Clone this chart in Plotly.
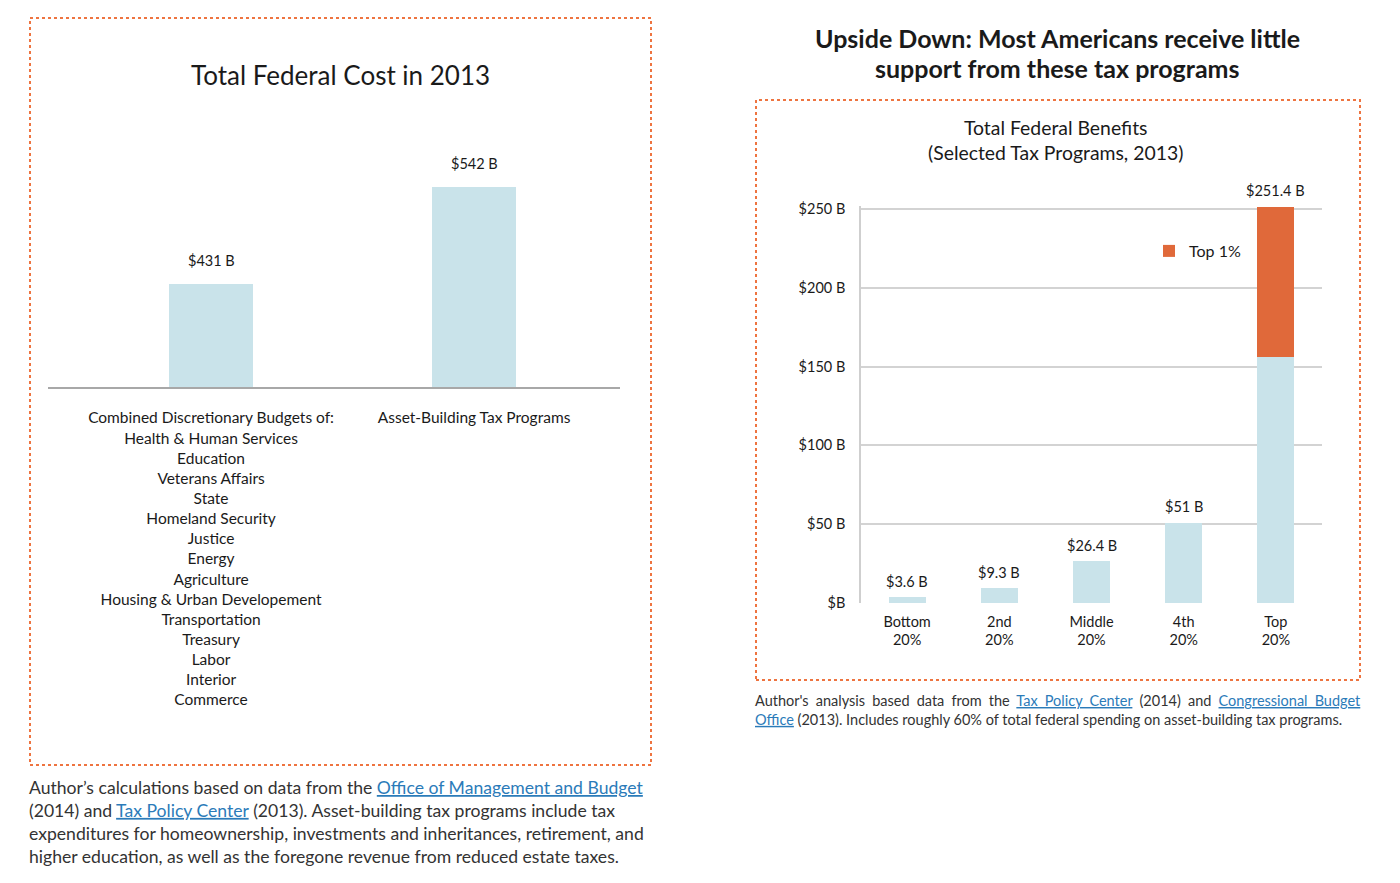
import plotly.graph_objects as go

# ---------------- data ----------------
left_categories = [
    "Combined Discretionary Budgets of:<br>Health & Human Services<br>Education<br>Veterans Affairs<br>State<br>Homeland Security<br>Justice<br>Energy<br>Agriculture<br>Housing & Urban Developement<br>Transportation<br>Treasury<br>Labor<br>Interior<br>Commerce",
    "Asset-Building Tax Programs",
]
left_values = [431, 542]

right_categories = ["Bottom<br>20%", "2nd<br>20%", "Middle<br>20%", "4th<br>20%", "Top<br>20%"]
right_base_values = [3.6, 9.3, 26.4, 51, 156.0]
right_top1_values = [0, 0, 0, 0, 95.4]
right_totals = [3.6, 9.3, 26.4, 51, 251.4]
right_tickvals = [0, 50, 100, 150, 200, 250]
right_ticktext = ["$B", "$50 B", "$100 B", "$150 B", "$200 B", "$250 B"]

FONT = "Lato"
TXT = "#1a1a1a"
BLUE = "#C9E3EA"
ORANGE = "#E0693A"
BORDER = "#EE7440"
LINK = "#2B7BB9"
W, H = 1400, 883

def px_x(p):
    return p / W

def px_y(p):
    return 1 - p / H

fig = go.Figure()

# left chart
fig.add_trace(go.Bar(
    x=[0, 1], y=left_values, marker=dict(color=BLUE, line=dict(width=0)), width=0.32,
    xaxis="x", yaxis="y", showlegend=False, hoverinfo="skip",
))

# right chart
fig.add_trace(go.Bar(
    x=right_categories, y=right_base_values, marker=dict(color=BLUE, line=dict(width=0)),
    xaxis="x2", yaxis="y2", showlegend=False, name="Bottom 99%",
))
fig.add_trace(go.Bar(
    x=right_categories, y=right_top1_values, marker=dict(color=ORANGE, line=dict(width=0)),
    xaxis="x2", yaxis="y2", showlegend=True, name="Top 1%",
))

annotations = []
for i, v in enumerate(left_values):
    annotations.append(dict(
        x=i, y=v, xref="x", yref="y", text=f"${v:g} B", showarrow=False,
        yanchor="middle", yshift=23, font=dict(size=14.5, color=TXT, family=FONT),
    ))
for c, v in zip(right_categories, right_totals):
    annotations.append(dict(
        x=c, y=v, xref="x2", yref="y2", text=f"${v:g} B", showarrow=False,
        yanchor="middle", yshift=16, font=dict(size=14.5, color=TXT, family=FONT),
    ))

def link(t, extra=""):
    return f'<span style="color:{LINK};text-decoration:underline;{extra}">{t}</span>'

def ws(t):
    return f'<span style="word-spacing:3.4px">{t}</span>'

annotations += [
    dict(x=px_x(340), y=px_y(75), xref="paper", yref="paper", text="Total Federal Cost in 2013",
         showarrow=False, xanchor="center", yanchor="middle", font=dict(size=26, color=TXT, family=FONT)),
    dict(x=px_x(1057), y=px_y(38), xref="paper", yref="paper",
         text="<b>Upside Down: Most Americans receive little</b>",
         showarrow=False, xanchor="center", yanchor="middle", font=dict(size=25, color=TXT, family=FONT)),
    dict(x=px_x(1057), y=px_y(68), xref="paper", yref="paper",
         text="<b>support from these tax programs</b>",
         showarrow=False, xanchor="center", yanchor="middle", font=dict(size=25, color=TXT, family=FONT)),
    dict(x=px_x(1055), y=px_y(140), xref="paper", yref="paper",
         text="Total Federal Benefits<br>(Selected Tax Programs, 2013)",
         showarrow=False, xanchor="center", yanchor="middle", font=dict(size=19.4, color=TXT, family=FONT)),
    dict(x=px_x(27), y=px_y(775), xref="paper", yref="paper", align="left",
         text=("Author\u2019s calculations based on data from the " + link("Office of Management and Budget") +
               "<br>(2014) and " + link("Tax Policy Center") +
               " (2013). Asset-building tax programs include tax"
               "<br>expenditures for homeownership, investments and inheritances, retirement, and"
               "<br>higher education, as well as the foregone revenue from reduced estate taxes."),
         showarrow=False, xanchor="left", yanchor="top", font=dict(size=17.6, color="#333333", family=FONT)),
    dict(x=px_x(753), y=px_y(690), xref="paper", yref="paper", align="left",
         text=(ws("Author's analysis based data from the ") + link("Tax Policy Center", "word-spacing:3.4px") +
               ws(" (2014) and ") + link("Congressional Budget", "word-spacing:3.4px") +
               "<br>" + link("Office") +
               " (2013). Includes roughly 60% of total federal spending on asset-building tax programs."),
         showarrow=False, xanchor="left", yanchor="top", font=dict(size=14.5, color="#333333", family=FONT)),
]

shapes = [
    dict(type="rect", xref="paper", yref="paper", x0=px_x(30), x1=px_x(651), y0=px_y(765), y1=px_y(18),
         line=dict(color=BORDER, width=2, dash="dot")),
    dict(type="rect", xref="paper", yref="paper", x0=px_x(756), x1=px_x(1360), y0=px_y(680), y1=px_y(100),
         line=dict(color=BORDER, width=2, dash="dot")),
]

fig.update_layout(
    template="none",
    width=W, height=H, margin=dict(l=0, r=0, t=0, b=0, pad=0),
    paper_bgcolor="white", plot_bgcolor="white",
    barmode="stack", bargap=0.6,
    font=dict(family=FONT, color=TXT),
    annotations=annotations, shapes=shapes,
    showlegend=True,
    legend=dict(x=px_x(1149), y=px_y(234), xanchor="left", yanchor="top",
                font=dict(size=16, color=TXT, family=FONT), bgcolor="rgba(0,0,0,0)"),
    xaxis=dict(domain=[px_x(48), px_x(620)], range=[-0.62, 1.555], tickvals=[0, 1],
               ticktext=left_categories, showgrid=False, zeroline=False, automargin=False,
               showline=True, linecolor="#A8A8A8", linewidth=1.5, ticks="",
               tickfont=dict(size=15.5, color=TXT, family=FONT), ticklabelstandoff=16,
               fixedrange=True),
    yaxis=dict(domain=[px_y(387), px_y(171)], range=[313, 560], visible=False,
               automargin=False, fixedrange=True),
    xaxis2=dict(domain=[px_x(861), px_x(1322)], anchor="y2", showgrid=False, zeroline=False,
                showline=False, ticks="", automargin=False,
                tickfont=dict(size=14.5, color=TXT, family=FONT),
                ticklabelstandoff=8, fixedrange=True),
    yaxis2=dict(domain=[px_y(603), px_y(205.8)], anchor="x2", range=[0, 252],
                tickvals=right_tickvals, ticktext=right_ticktext, ticks="", automargin=False,
                showgrid=True, gridcolor="#D3D3D3", gridwidth=1.5, zeroline=False,
                showline=True, linecolor="#CFCFCF", linewidth=1.5,
                tickfont=dict(size=14.5, color=TXT, family=FONT), ticklabelstandoff=11,
                fixedrange=True),
)

fig.write_html("out.html", config={"displayModeBar": False},
               post_script="document.body.style.margin='0';document.body.style.overflow='hidden';")
